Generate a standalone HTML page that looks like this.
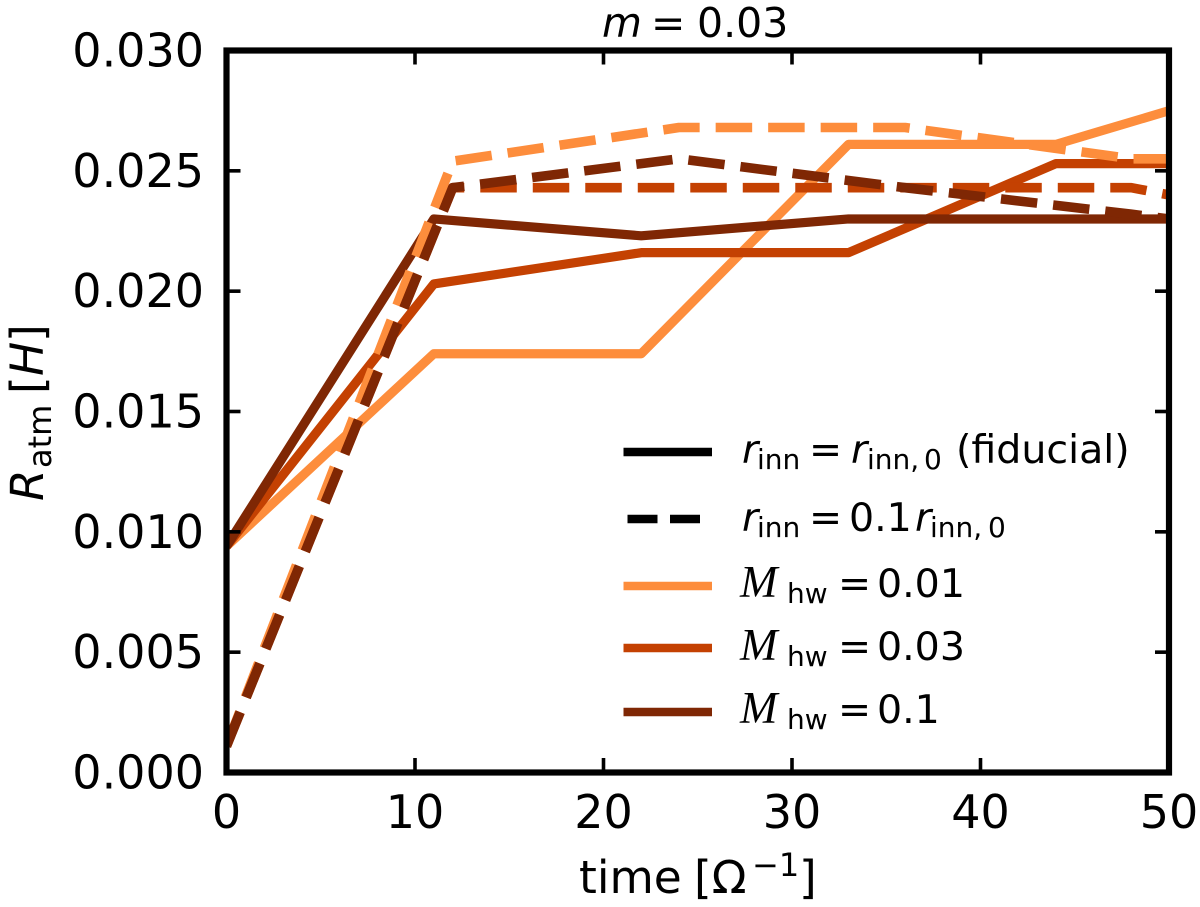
<!DOCTYPE html>
<html lang="en">
<head>
<meta charset="utf-8">
<title>Atmosphere radius over time, m = 0.03</title>
<style>
html,body{margin:0;padding:0;background:#fff;}
svg{display:block;}
text{font-family:"DejaVu Sans","Liberation Sans",sans-serif;fill:#000;}
.tick{font-size:46px;}
.leg{font-size:39.5px;}
.sub{font-size:28px;}
.it{font-style:italic;}
.cal{font-family:"Liberation Serif",serif;font-style:italic;font-size:45px;}
</style>
</head>
<body>
<svg id="chart" xmlns="http://www.w3.org/2000/svg" width="1200" height="907" viewBox="0 0 1200 907">
  <defs><clipPath id="plot-clip"><rect x="226.5" y="50.5" width="942.5" height="722"/></clipPath></defs>
  <rect x="0" y="0" width="1200" height="907" fill="#fff"/>
  <g id="series" clip-path="url(#plot-clip)"></g>
  <g id="ticks"></g>
  <rect x="226.5" y="50.5" width="942.5" height="722" fill="none" stroke="#000" stroke-width="6.2"/>

  <text y="37" font-size="41"><tspan class="it" x="602">m</tspan><tspan x="651">=</tspan><tspan x="697">0.03</tspan></text>
  <text y="893" font-size="45.5"><tspan x="579">time</tspan><tspan x="694">[Ω</tspan><tspan x="752" dy="-17" font-size="32">−1</tspan><tspan x="799" dy="17">]</tspan></text>
  <text transform="translate(43,501) rotate(-90)" font-size="45.5"><tspan class="it" x="0" y="0">R</tspan><tspan x="33" y="8" font-size="32">atm</tspan><tspan x="107" y="0">[</tspan><tspan class="it" x="125" y="0">H</tspan><tspan x="159" y="0">]</tspan></text>

  <g>
    <line x1="623.5" x2="712" y1="452" y2="452" stroke="#000" stroke-width="8.5"/>
    <line x1="627.5" x2="700" y1="519" y2="519" stroke="#000" stroke-width="8.5" stroke-dasharray="30 12.5"/>
    <line x1="623.5" x2="712" y1="586" y2="586" stroke="#fd8d3c" stroke-width="8.5"/>
    <line x1="623.5" x2="712" y1="648" y2="648" stroke="#c44102" stroke-width="8.5"/>
    <line x1="623.5" x2="712" y1="712" y2="712" stroke="#7f2704" stroke-width="8.5"/>

    <text class="leg" y="463"><tspan class="it" x="742">r</tspan><tspan class="sub" x="757" dy="6">inn</tspan><tspan x="809" dy="-6">=</tspan><tspan class="it" x="851">r</tspan><tspan class="sub" x="867" dy="6">inn,</tspan><tspan class="sub" x="924">0</tspan><tspan x="956" dy="-6">(fiducial)</tspan></text>
    <text class="leg" y="531"><tspan class="it" x="742">r</tspan><tspan class="sub" x="757" dy="6">inn</tspan><tspan x="809" dy="-6">=</tspan><tspan x="849">0.1</tspan><tspan class="it" x="915">r</tspan><tspan class="sub" x="930" dy="6">inn,</tspan><tspan class="sub" x="988">0</tspan></text>
    <text class="leg" y="597"><tspan class="cal" x="740">M</tspan><tspan class="sub" x="787" dy="6">hw</tspan><tspan x="838" dy="-6">=</tspan><tspan x="877">0.01</tspan></text>
    <text class="leg" y="660"><tspan class="cal" x="740">M</tspan><tspan class="sub" x="787" dy="6">hw</tspan><tspan x="838" dy="-6">=</tspan><tspan x="877">0.03</tspan></text>
    <text class="leg" y="723"><tspan class="cal" x="740">M</tspan><tspan class="sub" x="787" dy="6">hw</tspan><tspan x="838" dy="-6">=</tspan><tspan x="877">0.1</tspan></text>
  </g>
</svg>
<script>
const xTickValues = [0, 10, 20, 30, 40, 50];
const yTickValues = [0, 0.005, 0.010, 0.015, 0.020, 0.025, 0.030];
const yTickLabels = ['0.000', '0.005', '0.010', '0.015', '0.020', '0.025', '0.030'];

const solidTimes = [0, 11, 22, 33, 44, 50];
const dashedTimes = [0, 12, 24, 36, 48, 50];

const solidMach001 = [0.0094, 0.0174, 0.0174, 0.0261, 0.0261, 0.0275];
const solidMach003 = [0.0094, 0.0203, 0.0216, 0.0216, 0.0253, 0.0253];
const solidMach01 = [0.0094, 0.0230, 0.0223, 0.0230, 0.0230, 0.0230];
const dashedMach001 = [0.0011, 0.0254, 0.0268, 0.0268, 0.0255, 0.0255];
const dashedMach003 = [0.0011, 0.0243, 0.0243, 0.0243, 0.0243, 0.0240];
const dashedMach01 = [0.0011, 0.0243, 0.0255, 0.0243, 0.0232, 0.0230];

const colorMach001 = '#fd8d3c';
const colorMach003 = '#c44102';
const colorMach01 = '#7f2704';

const NS = 'http://www.w3.org/2000/svg';
function xScale(t) { return 226.5 + (t / 50) * 942.5; }
function yScale(v) { return 772.5 - (v / 0.03) * 722; }

const seriesGroup = document.getElementById('series');
function drawSeries(name, times, values, color, dashed) {
  const line = document.createElementNS(NS, 'polyline');
  
  
  line.setAttribute('points', values.map(function (v, i) {
    return xScale(times[i]).toFixed(2) + ',' + yScale(v).toFixed(2);
  }).join(' '));
  line.setAttribute('fill', 'none');
  line.setAttribute('stroke', color);
  line.setAttribute('stroke-width', dashed ? '9.6' : '9.2');
  line.setAttribute('stroke-linejoin', 'round');
  if (dashed) line.setAttribute('stroke-dasharray', '36.5 16');
  seriesGroup.appendChild(line);
}
drawSeries('line-solid-mach-0.01', solidTimes, solidMach001, colorMach001, false);
drawSeries('line-solid-mach-0.03', solidTimes, solidMach003, colorMach003, false);
drawSeries('line-solid-mach-0.1', solidTimes, solidMach01, colorMach01, false);
drawSeries('line-dashed-mach-0.01', dashedTimes, dashedMach001, colorMach001, true);
drawSeries('line-dashed-mach-0.03', dashedTimes, dashedMach003, colorMach003, true);
drawSeries('line-dashed-mach-0.1', dashedTimes, dashedMach01, colorMach01, true);

const tickGroup = document.getElementById('ticks');
function drawTick(name, x1, y1, x2, y2) {
  const tick = document.createElementNS(NS, 'line');
  
  
  tick.setAttribute('x1', x1);
  tick.setAttribute('y1', y1);
  tick.setAttribute('x2', x2);
  tick.setAttribute('y2', y2);
  tick.setAttribute('stroke', '#000');
  tick.setAttribute('stroke-width', '3.6');
  tickGroup.appendChild(tick);
}
function drawLabel(name, x, y, anchor, content) {
  const label = document.createElementNS(NS, 'text');
  
  
  label.setAttribute('class', 'tick');
  label.setAttribute('x', x);
  label.setAttribute('y', y);
  label.setAttribute('text-anchor', anchor);
  label.textContent = content;
  tickGroup.appendChild(label);
}
xTickValues.forEach(function (t) {
  const x = xScale(t);
  if (t > 0 && t < 50) {
    drawTick('x-tick-bottom-' + t, x, 772.5, x, 758);
    drawTick('x-tick-top-' + t, x, 50.5, x, 64.5);
  }
  drawLabel('x-tick-label-' + t, x, 828, 'middle', String(t));
});
yTickValues.forEach(function (v, i) {
  const y = yScale(v);
  if (i > 0 && i < yTickValues.length - 1) {
    drawTick('y-tick-left-' + yTickLabels[i], 226.5, y, 240.5, y);
    drawTick('y-tick-right-' + yTickLabels[i], 1169, y, 1155, y);
  }
  drawLabel('y-tick-label-' + yTickLabels[i], 204, y + 16, 'end', yTickLabels[i]);
});
</script>
</body>
</html>
